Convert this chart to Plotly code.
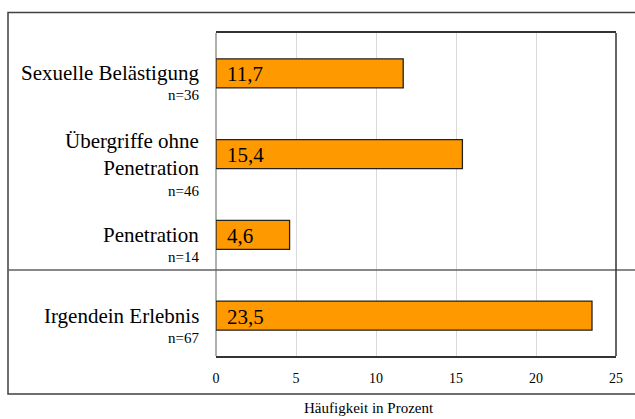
import plotly.graph_objects as go

# Data
categories = ["Sexuelle Belästigung", "Übergriffe ohne<br>Penetration", "Penetration", "Irgendein Erlebnis"]
n_values = [36, 46, 14, 67]
values = [11.7, 15.4, 4.6, 23.5]
x_ticks = [0, 5, 10, 15, 20, 25]

_FONT = "Liberation Serif"
_BAR = "#ff9900"
_DARK = "#333333"

pos = list(range(len(categories)))

fig = go.Figure(
    go.Bar(
        x=values,
        y=pos,
        orientation="h",
        width=0.36,
        marker={"color": _BAR, "line": {"color": "#222222", "width": 1.3}},
        hoverinfo="x",
        showlegend=False,
    )
)

annotations = []
for i, (cat, n, v) in enumerate(zip(categories, n_values, values)):
    lines = cat.count("<br>") + 1
    # category label left of the plot
    annotations.append(dict(
        text=cat, x=-0.0375, xref="paper", y=i, yref="y",
        xanchor="right", yanchor="middle", align="right", showarrow=False,
        font={"family": _FONT, "size": 21, "color": "#000"},
    ))
    # n= below the label
    annotations.append(dict(
        text=f"n={n}", x=-0.0375, xref="paper", y=i, yref="y",
        xanchor="right", yanchor="middle", showarrow=False,
        yshift=-(22 + 15 * (lines - 1)),
        font={"family": _FONT, "size": 15, "color": "#000"},
    ))
    # value inside the bar
    annotations.append(dict(
        text=f"{v:.1f}".replace(".", ","), x=0, xref="x", y=i, yref="y",
        xanchor="left", yanchor="middle", xshift=9, yshift=-1, showarrow=False,
        font={"family": _FONT, "size": 21, "color": "#000"},
    ))

annotations.append(dict(
    text="Häufigkeit in Prozent", x=0.3825, xref="paper", y=-0.161, yref="paper",
    xanchor="center", yanchor="middle", showarrow=False,
    font={"family": _FONT, "size": 15, "color": "#000"},
))

shapes = [
    # outer frame (runs off the right edge)
    dict(type="rect", xref="paper", yref="paper", x0=-0.52, x1=1.06, y0=-0.1176, y1=1.0635,
         line={"color": "#404040", "width": 1.5}, layer="below"),
    # separator between subtypes and total
    dict(type="line", xref="paper", yref="paper", x0=-0.52, x1=1.06, y0=0.2663, y1=0.2663,
         line={"color": "#606060", "width": 1.5}),
    # right border of plot area
    dict(type="line", xref="paper", yref="paper", x0=1, x1=1, y0=0, y1=1,
         line={"color": _DARK, "width": 1.5}),
]

fig.update_layout(
    width=635, height=419,
    margin={"l": 216, "r": 19, "t": 33, "b": 63},
    paper_bgcolor="white", plot_bgcolor="white",
    font={"family": _FONT, "color": "#000"},
    xaxis={
        "range": [0, 25], "tickvals": x_ticks, "ticks": "",
        "ticklabelstandoff": 8,
        "tickfont": {"family": _FONT, "size": 14, "color": "#000"},
        "showgrid": True, "gridcolor": "#d9d9d9", "gridwidth": 1,
        "zeroline": True, "zerolinecolor": "#b0b0b0", "zerolinewidth": 1.5,
        "showline": True, "linecolor": _DARK, "linewidth": 1.5, "mirror": True,
        "fixedrange": True,
    },
    yaxis={
        "range": [3.5, -0.5], "showticklabels": False, "showgrid": False,
        "zeroline": False, "showline": False, "fixedrange": True,
    },
    annotations=annotations,
    shapes=shapes,
)

# page body has a default 8px margin; drop it so the figure fills the window
fig.write_html(
    "out.html",
    config={"displayModeBar": False},
    post_script="document.body.style.margin='0px';",
)
